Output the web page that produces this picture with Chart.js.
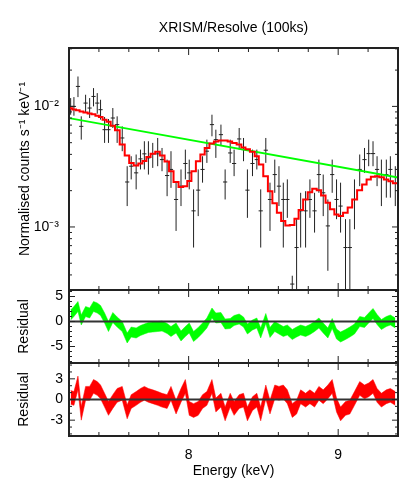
<!DOCTYPE html>
<html><head><meta charset="utf-8">
<script src="https://cdn.jsdelivr.net/npm/chart.js@4.4.1/dist/chart.umd.min.js"></script>
<style>
html,body{margin:0;padding:0;background:#fff;}
#wrap{position:relative;width:415px;height:485px;}
#wrap canvas{position:absolute;left:0;top:0;}
</style></head><body>
<div id="wrap">
<canvas id="c1" width="415" height="485"></canvas>
<canvas id="c2" width="415" height="485"></canvas>
<canvas id="c3" width="415" height="485"></canvas>
</div>
<script>
// ---------------- data ----------------
const energy = [7.211,7.233,7.260,7.282,7.311,7.338,7.364,7.389,7.411,7.438,
 7.464,7.493,7.522,7.556,7.589,7.616,7.649,7.678,7.704,7.731,
 7.760,7.793,7.822,7.856,7.882,7.916,7.949,7.978,8.004,8.033,
 8.064,8.093,8.122,8.156,8.182,8.216,8.244,8.278,8.304,8.338,
 8.367,8.393,8.427,8.456,8.482,8.516,8.544,8.576,8.604,8.633,
 8.660,8.693,8.722,8.749,8.782,8.811,8.842,8.871,8.900,8.931,
 8.960,8.989,9.016,9.049,9.078,9.109,9.144,9.176,9.204,9.233,
 9.260,9.289,9.322,9.349,9.382];
const binHalfWidth = 0.014;
const counts = [0.0100,0.0100,0.01464,0.00683,0.01065,0.00969,0.01209,0.01065,0.00939,0.00641,
 0.00641,0.00801,0.00706,0.00547,0.00236,0.00319,0.00281,0.00367,0.00404,0.00374,
 0.00404,0.00404,0.00362,0.00267,0.00300,0.00169,0.00218,0.00336,0.00281,0.00136,
 0.00202,0.00300,0.00425,0.00706,0.00530,0.00583,0.00236,0.00411,0.00336,0.00537,
 0.00438,0.00202,0.00336,0.00362,0.00136,0.00433,0.00169,0.00272,0.00218,0.00169,
 0.00169,0.000336,0.000675,0.00136,0.00136,0.00169,0.00136,0.00272,0.00192,0.00102,
 0.00272,0.00169,0.00149,0.000675,0.000675,0.00169,0.00300,0.00362,0.00406,0.00406,
 0.00300,0.00272,0.00272,0.00300,0.00230];
const countsHi = [0.01172,0.01194,0.0177,0.00827,0.01249,0.01172,0.01418,0.01289,0.01135,0.00817,
 0.00786,0.00969,0.00827,0.00683,0.00319,0.00386,0.00399,0.00438,0.00514,0.00514,
 0.00498,0.00547,0.00452,0.00362,0.00425,0.00233,0.00300,0.00438,0.00362,0.00205,
 0.00300,0.00386,0.00530,0.00853,0.00641,0.00706,0.00300,0.00530,0.00438,0.00662,
 0.00547,0.00300,0.00438,0.00438,0.00205,0.00547,0.00233,0.00362,0.00319,0.00233,
 0.00248,0.000394,0.00116,0.00192,0.00198,0.00248,0.00192,0.00362,0.00272,0.00169,
 0.00362,0.00248,0.00233,0.00116,0.00116,0.00248,0.00399,0.00452,0.00530,0.00514,
 0.00386,0.00362,0.00362,0.00386,0.00319];
const countsLo = [0.00853,0.00837,0.01194,0.00530,0.00881,0.00801,0.0100,0.0087,0.00776,0.00498,
 0.00498,0.00662,0.00498,0.00425,0.00149,0.00248,0.00205,0.00300,0.00300,0.00272,
 0.00309,0.00319,0.00290,0.00180,0.00211,0.000927,0.00149,0.00248,0.00205,0.000675,
 0.00123,0.00233,0.00340,0.00565,0.00374,0.00473,0.00169,0.00340,0.00264,0.00438,
 0.00351,0.00119,0.00264,0.00300,0.000675,0.00340,0.000927,0.00192,0.00149,0.000675,
 0.00119,0.000287,0.0002,0.000675,0.000675,0.00119,0.000898,0.00192,0.00123,0.000433,
 0.00192,0.00116,0.000898,0.0002,0.0002,0.000957,0.00218,0.00281,0.00319,0.00319,
 0.00218,0.00149,0.00175,0.00175,0.00149];
const modelCounts = [0.00963,0.00944,0.00927,0.00909,0.00892,0.00875,0.00859,0.00837,0.00817,0.00776,
 0.00747,0.00692,0.00633,0.00482,0.00391,0.00340,0.00323,0.00336,0.00353,0.00381,
 0.00404,0.00420,0.00391,0.00349,0.00290,0.00236,0.00215,0.00218,0.00240,0.00290,
 0.00351,0.00399,0.00452,0.00492,0.00511,0.00521,0.00521,0.00511,0.00498,0.00482,
 0.00455,0.00441,0.00420,0.00386,0.00330,0.00264,0.00198,0.00157,0.00131,0.00112,
 0.00103,0.00104,0.00117,0.00138,0.00169,0.00194,0.00207,0.00202,0.00182,0.00159,
 0.00140,0.00127,0.00123,0.00131,0.00145,0.00169,0.00202,0.00225,0.00248,0.00261,
 0.00264,0.00258,0.00248,0.00239,0.00230];
const powerlawEnergy = [7.2, 9.4];
const powerlawCounts = [0.0080, 0.00257];
const residPowerlaw = [1.3,2,3,0.3,2,1.7,3,2.7,2.2,0.7,
 -1,0.8,-0.1,-1,-3.3,-2.1,-2.3,-1.8,-1.5,-1.2,
 -1.1,-1,-0.9,-1.4,-2,-1.3,-2.9,-2,-1.3,-3,
 -2.2,-1.3,-0.3,1.7,0.7,0.8,-0.5,-0.4,0.2,0.5,
 -0.1,-1.5,-0.7,-0.3,-2.3,0.6,-2.2,-1,-1.5,-2,
 -1.7,-2.6,-2.1,-1.7,-2,-1.6,-1,-0.3,-1.3,-2.3,
 -0.4,-2.5,-3.1,-2.6,-2.1,-1.5,0,-0.2,0.7,1.6,
 0.4,-0.6,0,0.3,-0.3];
const residModel = [0.3,0.15,2.4,-2,0.9,0.9,1.9,1.6,1.1,-0.1,
 -1.3,-0.3,0.6,0.9,-1.8,-0.3,0.15,0.6,0.9,0.6,
 0.4,0.15,-0.1,-0.3,0.9,-1.1,0.6,1.9,-1.3,-1.6,
 -1.3,-0.3,0.15,1.9,-0.8,-0.1,-2.1,-0.1,-1.3,-0.3,
 -0.1,-2.1,-0.6,-0.1,-2.1,1.1,-1.1,1.1,0.9,1.1,
 0.4,-1.6,-1.1,0.4,-0.1,0.4,-0.1,0.9,0.4,1.1,
 1.9,-0.8,-2.1,-1.3,-1.1,0.15,1.6,1.1,1.4,1.9,
 0.6,-0.1,0.4,0.6,0.15];
const residSigma = 1;

// ---------------- ticks ----------------
const xMajorTicks = [8, 9];
const xMinorTicks = [7.4, 7.6, 7.8, 8.2, 8.4, 8.6, 8.8, 9.2];
const xTickLabels = ['8', '9'];
const logMajorTicks = [1e-3, 1e-2];
const logTickLabels = ['10\u207B\u00B3', '10\u207B\u00B2'];
const logMinorTicks = [4e-4,5e-4,6e-4,7e-4,8e-4,9e-4,2e-3,3e-3,4e-3,5e-3,6e-3,7e-3,8e-3,9e-3,2e-2,3e-2];
const res1MajorTicks = [-5, 0, 5];
const res1MinorTicks = [-8,-7,-6,-4,-3,-2,-1,1,2,3,4,6];
const res2MajorTicks = [-3, 0, 3];
const res2MinorTicks = [-5,-4,-2,-1,1,2,4,5];

// ---------------- helpers ----------------
const FONT = "'Liberation Sans', Arial, Helvetica, sans-serif";
const W = 415, H = 485;
const LEFT = 69, RIGHT_PAD = 17;

const frameTicks = {
  id: 'frameTicks',
  afterDatasetsDraw(chart, args, o) {
    const {ctx, chartArea: a, scales} = chart;
    const xs = scales.x, ys = scales.y;
    ctx.save();
    const line = (x1, y1, x2, y2) => { ctx.beginPath(); ctx.moveTo(x1, y1); ctx.lineTo(x2, y2); ctx.stroke(); };
    if (o.zero) {
      ctx.strokeStyle = '#333'; ctx.lineWidth = 2;
      const y0 = ys.getPixelForValue(0);
      line(a.left, y0, a.right, y0);
    }
    ctx.strokeStyle = '#222';
    ctx.lineWidth = 1;
    for (const v of o.xMinor) { const x = xs.getPixelForValue(v); line(x, a.bottom, x, a.bottom - 4); line(x, a.top, x, a.top + 4); }
    for (const v of o.xMajor) { const x = xs.getPixelForValue(v); line(x, a.bottom, x, a.bottom - 7); line(x, a.top, x, a.top + 7); }
    for (const v of o.yMinor) { const y = ys.getPixelForValue(v); line(a.left, y, a.left + 3, y); line(a.right, y, a.right - 3, y); }
    for (const v of o.yMajor) { const y = ys.getPixelForValue(v); line(a.left, y, a.left + 6, y); line(a.right, y, a.right - 6, y); }
    ctx.lineWidth = 2;
    ctx.strokeRect(a.left, a.top, a.right - a.left, a.bottom - a.top);
    ctx.restore();
  }
};

const errorBars = {
  id: 'errorBars',
  beforeDatasetsDraw(chart) {
    const {ctx, chartArea: a, scales: {x, y}} = chart;
    ctx.save();
    ctx.beginPath(); ctx.rect(a.left, a.top, a.right - a.left, a.bottom - a.top); ctx.clip();
    ctx.strokeStyle = '#222'; ctx.lineWidth = 1;
    for (let i = 0; i < energy.length; i++) {
      const px = x.getPixelForValue(energy[i]);
      const py = y.getPixelForValue(counts[i]);
      ctx.beginPath();
      ctx.moveTo(px, y.getPixelForValue(countsHi[i]));
      ctx.lineTo(px, y.getPixelForValue(countsLo[i]));
      ctx.moveTo(x.getPixelForValue(energy[i] - binHalfWidth), py);
      ctx.lineTo(x.getPixelForValue(energy[i] + binHalfWidth), py);
      ctx.stroke();
    }
    ctx.restore();
  }
};

const xScale = (show) => ({
  type: 'linear', min: 7.2, max: 9.4, display: show,
  afterBuildTicks(s) { s.ticks = xMajorTicks.map(v => ({value: v})); },
  afterFit(s) { if (show) s.height = H - 436; },
  grid: {display: false, drawTicks: false},
  border: {display: false},
  ticks: {font: {family: FONT, size: 14}, color: '#000', padding: 10.5, autoSkip: false, maxRotation: 0,
          callback: (v) => xTickLabels[xMajorTicks.indexOf(v)]},
  title: {display: show, text: 'Energy (keV)', font: {family: FONT, size: 14}, color: '#000', padding: {top: 0, bottom: 5}}
});

const residYScale = (min, max, majors, title) => ({
  type: 'linear', min, max,
  afterFit(s) { s.width = LEFT; },
  afterBuildTicks(s) { s.ticks = majors.map(v => ({value: v})); },
  grid: {display: false, drawTicks: false},
  border: {display: false},
  ticks: {font: {family: FONT, size: 14}, color: '#000', padding: 6, autoSkip: false, callback: (v) => String(v)},
  title: {display: true, text: title, font: {family: FONT, size: 14}, color: '#000', padding: {top: 15.5, bottom: 0}}
});

const pts = (ys) => energy.map((e, i) => ({x: e, y: ys[i]}));
const band = (res, sign) => energy.map((e, i) => ({x: e, y: res[i] + sign * residSigma}));

// ---------------- top panel ----------------
const modelPts = [{x: energy[0] - binHalfWidth, y: modelCounts[0]}]
  .concat(pts(modelCounts))
  .concat([{x: energy[energy.length - 1] + binHalfWidth, y: modelCounts[modelCounts.length - 1]}]);

new Chart(document.getElementById('c1'), {
  type: 'scatter',
  data: {datasets: [
    {label: 'data', data: pts(counts), pointRadius: 0, showLine: false},
    {label: 'model', type: 'line', data: modelPts, stepped: 'middle', borderColor: '#ff0000', borderWidth: 2, pointRadius: 0, fill: false},
    {label: 'power law', type: 'line', data: powerlawEnergy.map((e, i) => ({x: e, y: powerlawCounts[i]})), borderColor: '#00ff00', borderWidth: 1.8, pointRadius: 0, fill: false}
  ]},
  options: {
    responsive: false, animation: false, devicePixelRatio: 1,
    layout: {padding: {left: 0, right: RIGHT_PAD, top: 0, bottom: H - 290}},
    plugins: {
      legend: {display: false}, tooltip: {enabled: false},
      title: {display: true, fullSize: false, text: 'XRISM/Resolve (100ks)', font: {family: FONT, size: 14, weight: 'normal'}, color: '#000', padding: {top: 20, bottom: 11.2}},
      frameTicks: {xMajor: xMajorTicks, xMinor: xMinorTicks, yMajor: logMajorTicks, yMinor: logMinorTicks}
    },
    scales: {
      x: xScale(false),
      y: {
        type: 'logarithmic', min: 3.05e-4, max: 3.05e-2,
        afterFit(s) { s.width = LEFT; },
        afterBuildTicks(s) { s.ticks = logMajorTicks.map(v => ({value: v})); },
        grid: {display: false, drawTicks: false},
        border: {display: false},
        ticks: {font: {family: FONT, size: 14}, color: '#000', padding: 10, autoSkip: false,
                callback: (v) => logTickLabels[logMajorTicks.findIndex(t => Math.abs(t - v) < t * 1e-6)]},
        title: {display: true, text: 'Normalised counts s\u207B\u00B9 keV\u207B\u00B9', font: {family: FONT, size: 14}, color: '#000', padding: {top: 17, bottom: 0}}
      }
    }
  },
  plugins: [errorBars, frameTicks]
});

// ---------------- middle panel (residuals vs power law) ----------------
new Chart(document.getElementById('c2'), {
  type: 'line',
  data: {datasets: [
    {label: 'upper', data: band(residPowerlaw, 1), borderColor: '#00ff00', borderWidth: 0.5, pointRadius: 0, fill: false},
    {label: 'lower', data: band(residPowerlaw, -1), borderColor: '#00ff00', borderWidth: 0.5, pointRadius: 0, fill: '-1', backgroundColor: '#00ff00'}
  ]},
  options: {
    responsive: false, animation: false, devicePixelRatio: 1,
    layout: {padding: {left: 0, right: RIGHT_PAD, top: 290, bottom: H - 363}},
    plugins: {legend: {display: false}, tooltip: {enabled: false},
      frameTicks: {zero: true, xMajor: xMajorTicks, xMinor: xMinorTicks, yMajor: res1MajorTicks, yMinor: res1MinorTicks}},
    scales: {x: xScale(false), y: residYScale(-8.3, 6.3, res1MajorTicks, 'Residual')}
  },
  plugins: [frameTicks]
});

// ---------------- bottom panel (residuals vs full model) ----------------
new Chart(document.getElementById('c3'), {
  type: 'line',
  data: {datasets: [
    {label: 'upper', data: band(residModel, 1), borderColor: '#ff0000', borderWidth: 0.5, pointRadius: 0, fill: false},
    {label: 'lower', data: band(residModel, -1), borderColor: '#ff0000', borderWidth: 0.5, pointRadius: 0, fill: '-1', backgroundColor: '#ff0000'}
  ]},
  options: {
    responsive: false, animation: false, devicePixelRatio: 1,
    layout: {padding: {left: 0, right: RIGHT_PAD, top: 363, bottom: 0}},
    plugins: {legend: {display: false}, tooltip: {enabled: false},
      frameTicks: {zero: true, xMajor: xMajorTicks, xMinor: xMinorTicks, yMajor: res2MajorTicks, yMinor: res2MinorTicks}},
    scales: {x: xScale(true), y: residYScale(-5.3, 5.3, res2MajorTicks, 'Residual')}
  },
  plugins: [frameTicks]
});
</script>
</body></html>
